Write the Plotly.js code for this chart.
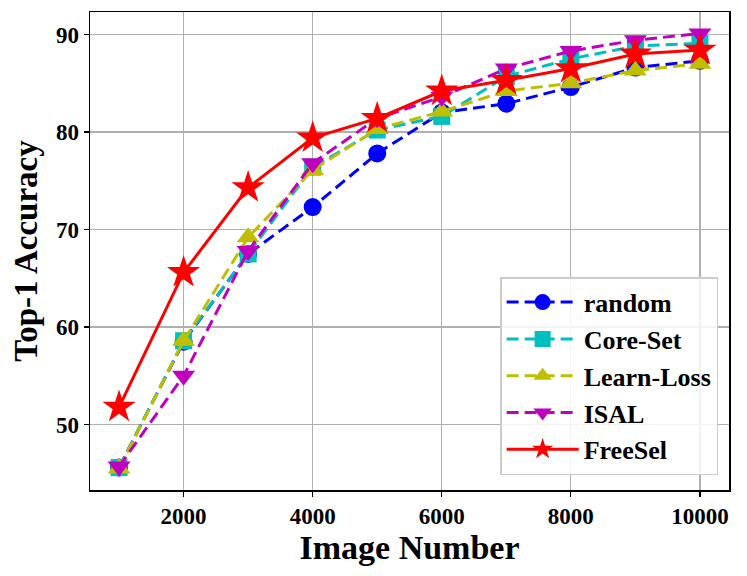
<!DOCTYPE html>
<html>
<head>
<meta charset="utf-8">
<script src="https://cdn.plot.ly/plotly-3.0.1.min.js"></script>
<style>
  html, body { margin: 0; padding: 0; background: #fff; }
  #chart { width: 747px; height: 576px; }
</style>
</head>
<body>
<div id="chart"></div>
<script>
const imageNumber = [1000, 2000, 3000, 4000, 5000, 6000, 7000, 8000, 9000, 10000]
const xTicks = [2000, 4000, 6000, 8000, 10000]
const xTickText = ['2000', '4000', '6000', '8000', '10000']
const yTicks = [50, 60, 70, 80, 90]

const randomAcc = [45.6, 58.5, 67.5, 72.3, 77.8, 82.0, 82.9, 84.6, 86.6, 87.3]
const coreSetAcc = [45.6, 58.6, 67.5, 76.4, 80.2, 81.6, 85.7, 87.5, 88.8, 89.1]
const learnLossAcc = [45.5, 58.6, 69.2, 76.1, 80.3, 82.1, 84.2, 85.0, 86.3, 87.0]
const isalAcc = [45.7, 55.0, 67.8, 76.8, 81.4, 83.6, 86.5, 88.3, 89.4, 90.1]
const freeSelAcc = [51.8, 65.6, 74.3, 79.4, 81.4, 84.2, 85.3, 86.5, 88.0, 88.4]

const font = 'Liberation Serif, Times New Roman, serif'

const makeTrace = (name, y, color, symbol, size, dash) => ({
    type: 'scatter',
    mode: 'lines+markers',
    name: name,
    x: imageNumber,
    y: y,
    line: { color: color, width: 3, dash: dash },
    marker: { symbol: symbol, size: size, color: color, line: { width: 0 } },
})

const data = [
    makeTrace('random', randomAcc, '#0000ff', 'circle', 18, '12px,6px'),
    makeTrace('Core-Set', coreSetAcc, '#00bfbf', 'square', 17, '12px,6px'),
    makeTrace('Learn-Loss', learnLossAcc, '#bfbf00', 'triangle-up', 20, '12px,6px'),
    makeTrace('ISAL', isalAcc, '#bf00bf', 'triangle-down', 20, '12px,6px'),
    makeTrace('FreeSel', freeSelAcc, '#ff0000', 'star', 25, 'solid'),
]

const axisCommon = {
    showline: true,
    mirror: true,
    linecolor: '#000',
    linewidth: 1.5,
    ticks: 'outside',
    ticklen: 5,
    tickwidth: 1.2,
    tickcolor: '#000',
    showgrid: true,
    gridcolor: '#b0b0b0',
    gridwidth: 1.2,
    zeroline: false,
    tickfont: { family: font, size: 23, color: '#000', weight: 'bold' },
}

const layout = {
    width: 747,
    height: 576,
    margin: { l: 90, r: 18, t: 12, b: 86 },
    paper_bgcolor: '#fff',
    plot_bgcolor: '#fff',
    font: { family: font, color: '#000' },
    xaxis: Object.assign({}, axisCommon, {
        range: [550, 10450],
        tickvals: xTicks,
        ticktext: xTickText,
        title: { text: 'Image Number', font: { family: font, size: 34, color: '#000', weight: 'bold' }, standoff: 4 },
    }),
    yaxis: Object.assign({}, axisCommon, {
        range: [43.3, 92.3],
        tickvals: yTicks,
        title: { text: 'Top-1 Accuracy', font: { family: font, size: 33, color: '#000', weight: 'bold' }, standoff: 8 },
    }),
    legend: {
        x: 0.983,
        y: 0.031,
        xanchor: 'right',
        yanchor: 'bottom',
        bgcolor: 'rgba(255,255,255,0.85)',
        bordercolor: '#cccccc',
        borderwidth: 1.5,
        font: { family: font, size: 26, color: '#000', weight: 'bold' },
        itemwidth: 72,
    },
    showlegend: true,
}

Plotly.newPlot('chart', data, layout, { displayModeBar: false, staticPlot: true })
</script>
</body>
</html>
